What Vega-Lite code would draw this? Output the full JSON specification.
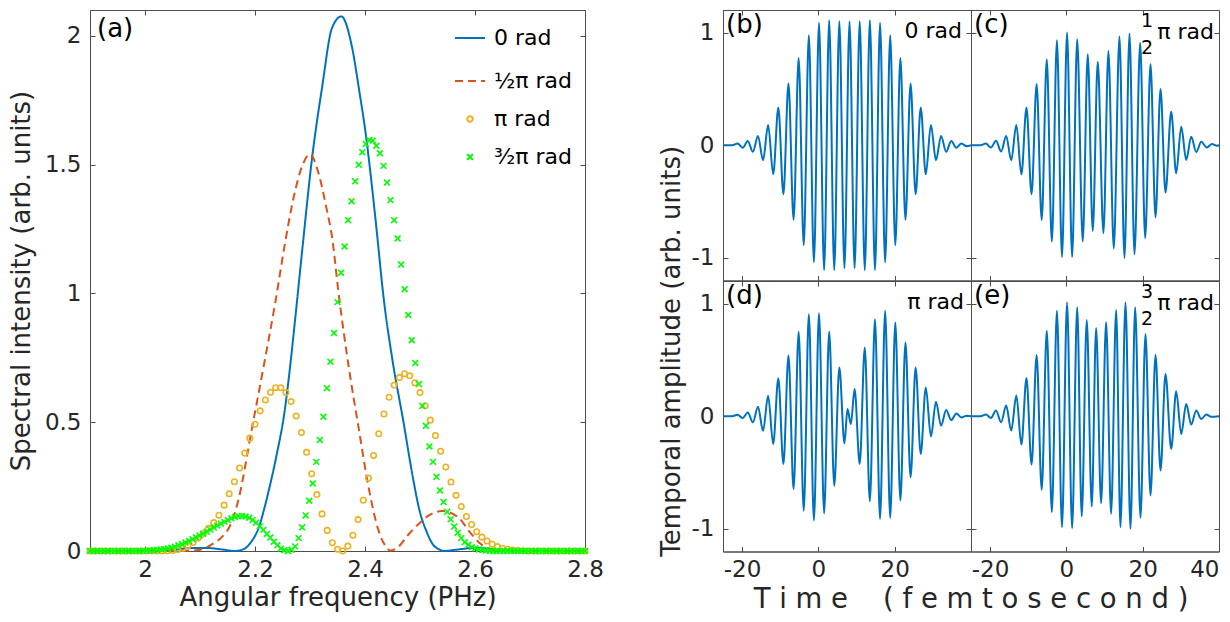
{
"$schema": "https://vega.github.io/schema/vega-lite/v6.json",
"padding": {"left": 7, "top": 9, "right": 5, "bottom": 0},
"background": "white",
"datasets": {
"lines": [
{"s":"0 rad","f":1.9,"v":0},{"s":"0 rad","f":2.0,"v":0.001},{"s":"0 rad","f":2.05,"v":0.004},{"s":"0 rad","f":2.08,"v":0.011},{"s":"0 rad","f":2.11,"v":0.012},{"s":"0 rad","f":2.14,"v":0.006},{"s":"0 rad","f":2.164,"v":0},{"s":"0 rad","f":2.18,"v":0.008},{"s":"0 rad","f":2.1945,"v":0.04},{"s":"0 rad","f":2.2067,"v":0.09},{"s":"0 rad","f":2.2187,"v":0.18},{"s":"0 rad","f":2.2278,"v":0.26},{"s":"0 rad","f":2.24,"v":0.38},{"s":"0 rad","f":2.253,"v":0.53},{"s":"0 rad","f":2.263,"v":0.7},{"s":"0 rad","f":2.273,"v":0.9},{"s":"0 rad","f":2.285,"v":1.15},{"s":"0 rad","f":2.304,"v":1.53},{"s":"0 rad","f":2.322,"v":1.8},{"s":"0 rad","f":2.34,"v":2.03},{"s":"0 rad","f":2.357,"v":2.075},{"s":"0 rad","f":2.376,"v":1.96},{"s":"0 rad","f":2.39,"v":1.78},{"s":"0 rad","f":2.4,"v":1.64},{"s":"0 rad","f":2.419,"v":1.29},{"s":"0 rad","f":2.434,"v":0.98},{"s":"0 rad","f":2.45,"v":0.74},{"s":"0 rad","f":2.47,"v":0.5},{"s":"0 rad","f":2.485,"v":0.31},{"s":"0 rad","f":2.5,"v":0.15},{"s":"0 rad","f":2.512,"v":0.075},{"s":"0 rad","f":2.522,"v":0.03},{"s":"0 rad","f":2.535,"v":0.006},{"s":"0 rad","f":2.545,"v":0},{"s":"0 rad","f":2.565,"v":0.005},{"s":"0 rad","f":2.6,"v":0.012},{"s":"0 rad","f":2.63,"v":0.008},{"s":"0 rad","f":2.66,"v":0.002},{"s":"0 rad","f":2.7,"v":0},{"s":"0 rad","f":2.8,"v":0},
{"s":"½π rad","f":1.9,"v":0},{"s":"½π rad","f":2.05,"v":0},{"s":"½π rad","f":2.09,"v":0.002},{"s":"½π rad","f":2.11,"v":0.012},{"s":"½π rad","f":2.125,"v":0.03},{"s":"½π rad","f":2.14,"v":0.055},{"s":"½π rad","f":2.155,"v":0.1},{"s":"½π rad","f":2.17,"v":0.2},{"s":"½π rad","f":2.1945,"v":0.477},{"s":"½π rad","f":2.216,"v":0.72},{"s":"½π rad","f":2.237,"v":0.966},{"s":"½π rad","f":2.255,"v":1.2},{"s":"½π rad","f":2.27,"v":1.37},{"s":"½π rad","f":2.285,"v":1.49},{"s":"½π rad","f":2.3,"v":1.54},{"s":"½π rad","f":2.315,"v":1.47},{"s":"½π rad","f":2.33,"v":1.33},{"s":"½π rad","f":2.34,"v":1.22},{"s":"½π rad","f":2.352,"v":1.0},{"s":"½π rad","f":2.37,"v":0.72},{"s":"½π rad","f":2.3885,"v":0.477},{"s":"½π rad","f":2.4067,"v":0.245},{"s":"½π rad","f":2.425,"v":0.077},{"s":"½π rad","f":2.437,"v":0.02},{"s":"½π rad","f":2.446,"v":0.002},{"s":"½π rad","f":2.46,"v":0.015},{"s":"½π rad","f":2.479,"v":0.064},{"s":"½π rad","f":2.5,"v":0.11},{"s":"½π rad","f":2.516,"v":0.138},{"s":"½π rad","f":2.54,"v":0.155},{"s":"½π rad","f":2.57,"v":0.13},{"s":"½π rad","f":2.59,"v":0.075},{"s":"½π rad","f":2.61,"v":0.028},{"s":"½π rad","f":2.63,"v":0.006},{"s":"½π rad","f":2.66,"v":0},{"s":"½π rad","f":2.8,"v":0}
],
"marks": [
{"s":"π rad","f":1.9,"v":0},{"s":"π rad","f":1.9094,"v":0},{"s":"π rad","f":1.9188,"v":0},{"s":"π rad","f":1.9281,"v":0},{"s":"π rad","f":1.9375,"v":0},{"s":"π rad","f":1.9469,"v":0},{"s":"π rad","f":1.9563,"v":0},{"s":"π rad","f":1.9656,"v":0},{"s":"π rad","f":1.975,"v":0},{"s":"π rad","f":1.9844,"v":0},{"s":"π rad","f":1.9938,"v":0},{"s":"π rad","f":2.0031,"v":0},{"s":"π rad","f":2.0125,"v":0},{"s":"π rad","f":2.0219,"v":0},{"s":"π rad","f":2.0313,"v":0},{"s":"π rad","f":2.0406,"v":0.001},{"s":"π rad","f":2.05,"v":0.002},{"s":"π rad","f":2.0594,"v":0.006},{"s":"π rad","f":2.0688,"v":0.011},{"s":"π rad","f":2.0781,"v":0.02},{"s":"π rad","f":2.0875,"v":0.033},{"s":"π rad","f":2.0969,"v":0.05},{"s":"π rad","f":2.1063,"v":0.068},{"s":"π rad","f":2.1156,"v":0.088},{"s":"π rad","f":2.125,"v":0.11},{"s":"π rad","f":2.1344,"v":0.139},{"s":"π rad","f":2.1438,"v":0.178},{"s":"π rad","f":2.1531,"v":0.222},{"s":"π rad","f":2.1625,"v":0.269},{"s":"π rad","f":2.1719,"v":0.322},{"s":"π rad","f":2.1813,"v":0.38},{"s":"π rad","f":2.1906,"v":0.438},{"s":"π rad","f":2.2,"v":0.492},{"s":"π rad","f":2.2094,"v":0.544},{"s":"π rad","f":2.2188,"v":0.586},{"s":"π rad","f":2.2281,"v":0.616},{"s":"π rad","f":2.2375,"v":0.634},{"s":"π rad","f":2.2469,"v":0.634},{"s":"π rad","f":2.2563,"v":0.615},{"s":"π rad","f":2.2656,"v":0.58},{"s":"π rad","f":2.275,"v":0.524},{"s":"π rad","f":2.2844,"v":0.46},{"s":"π rad","f":2.2938,"v":0.383},{"s":"π rad","f":2.3031,"v":0.3},{"s":"π rad","f":2.3125,"v":0.219},{"s":"π rad","f":2.3219,"v":0.144},{"s":"π rad","f":2.3313,"v":0.08},{"s":"π rad","f":2.3406,"v":0.032},{"s":"π rad","f":2.35,"v":0.007},{"s":"π rad","f":2.3594,"v":0},{"s":"π rad","f":2.3688,"v":0.019},{"s":"π rad","f":2.3781,"v":0.061},{"s":"π rad","f":2.3875,"v":0.122},{"s":"π rad","f":2.3969,"v":0.197},{"s":"π rad","f":2.4063,"v":0.283},{"s":"π rad","f":2.4156,"v":0.371},{"s":"π rad","f":2.425,"v":0.455},{"s":"π rad","f":2.4344,"v":0.532},{"s":"π rad","f":2.4438,"v":0.597},{"s":"π rad","f":2.4531,"v":0.644},{"s":"π rad","f":2.4625,"v":0.673},{"s":"π rad","f":2.4719,"v":0.688},{"s":"π rad","f":2.4813,"v":0.68},{"s":"π rad","f":2.4906,"v":0.653},{"s":"π rad","f":2.5,"v":0.615},{"s":"π rad","f":2.5094,"v":0.564},{"s":"π rad","f":2.5188,"v":0.508},{"s":"π rad","f":2.5281,"v":0.448},{"s":"π rad","f":2.5375,"v":0.387},{"s":"π rad","f":2.5469,"v":0.326},{"s":"π rad","f":2.5563,"v":0.268},{"s":"π rad","f":2.5656,"v":0.216},{"s":"π rad","f":2.575,"v":0.173},{"s":"π rad","f":2.5844,"v":0.134},{"s":"π rad","f":2.5938,"v":0.103},{"s":"π rad","f":2.6031,"v":0.075},{"s":"π rad","f":2.6125,"v":0.054},{"s":"π rad","f":2.6219,"v":0.039},{"s":"π rad","f":2.6313,"v":0.026},{"s":"π rad","f":2.6406,"v":0.017},{"s":"π rad","f":2.65,"v":0.011},{"s":"π rad","f":2.6594,"v":0.007},{"s":"π rad","f":2.6688,"v":0.004},{"s":"π rad","f":2.6781,"v":0.002},{"s":"π rad","f":2.6875,"v":0.001},{"s":"π rad","f":2.6969,"v":0},{"s":"π rad","f":2.7063,"v":0},{"s":"π rad","f":2.7156,"v":0},{"s":"π rad","f":2.725,"v":0},{"s":"π rad","f":2.7344,"v":0},{"s":"π rad","f":2.7438,"v":0},{"s":"π rad","f":2.7531,"v":0},{"s":"π rad","f":2.7625,"v":0},{"s":"π rad","f":2.7719,"v":0},{"s":"π rad","f":2.7813,"v":0},{"s":"π rad","f":2.7906,"v":0},{"s":"π rad","f":2.8,"v":0},
{"s":"³⁄₂π rad","f":1.9,"v":0},{"s":"³⁄₂π rad","f":1.9064,"v":0},{"s":"³⁄₂π rad","f":1.9129,"v":0},{"s":"³⁄₂π rad","f":1.9193,"v":0},{"s":"³⁄₂π rad","f":1.9257,"v":0},{"s":"³⁄₂π rad","f":1.9321,"v":0},{"s":"³⁄₂π rad","f":1.9386,"v":0},{"s":"³⁄₂π rad","f":1.945,"v":0},{"s":"³⁄₂π rad","f":1.9514,"v":0},{"s":"³⁄₂π rad","f":1.9579,"v":0},{"s":"³⁄₂π rad","f":1.9643,"v":0},{"s":"³⁄₂π rad","f":1.9707,"v":0},{"s":"³⁄₂π rad","f":1.9771,"v":0},{"s":"³⁄₂π rad","f":1.9836,"v":0},{"s":"³⁄₂π rad","f":1.99,"v":0},{"s":"³⁄₂π rad","f":1.9964,"v":0.001},{"s":"³⁄₂π rad","f":2.0029,"v":0.001},{"s":"³⁄₂π rad","f":2.0093,"v":0.002},{"s":"³⁄₂π rad","f":2.0157,"v":0.003},{"s":"³⁄₂π rad","f":2.0221,"v":0.004},{"s":"³⁄₂π rad","f":2.0286,"v":0.006},{"s":"³⁄₂π rad","f":2.035,"v":0.008},{"s":"³⁄₂π rad","f":2.0414,"v":0.01},{"s":"³⁄₂π rad","f":2.0479,"v":0.013},{"s":"³⁄₂π rad","f":2.0543,"v":0.017},{"s":"³⁄₂π rad","f":2.0607,"v":0.022},{"s":"³⁄₂π rad","f":2.0671,"v":0.027},{"s":"³⁄₂π rad","f":2.0736,"v":0.033},{"s":"³⁄₂π rad","f":2.08,"v":0.039},{"s":"³⁄₂π rad","f":2.0864,"v":0.046},{"s":"³⁄₂π rad","f":2.0929,"v":0.053},{"s":"³⁄₂π rad","f":2.0993,"v":0.06},{"s":"³⁄₂π rad","f":2.1057,"v":0.067},{"s":"³⁄₂π rad","f":2.1121,"v":0.075},{"s":"³⁄₂π rad","f":2.1186,"v":0.083},{"s":"³⁄₂π rad","f":2.125,"v":0.091},{"s":"³⁄₂π rad","f":2.1314,"v":0.099},{"s":"³⁄₂π rad","f":2.1379,"v":0.106},{"s":"³⁄₂π rad","f":2.1443,"v":0.113},{"s":"³⁄₂π rad","f":2.1507,"v":0.12},{"s":"³⁄₂π rad","f":2.1571,"v":0.127},{"s":"³⁄₂π rad","f":2.1636,"v":0.132},{"s":"³⁄₂π rad","f":2.17,"v":0.135},{"s":"³⁄₂π rad","f":2.1764,"v":0.136},{"s":"³⁄₂π rad","f":2.1829,"v":0.134},{"s":"³⁄₂π rad","f":2.1893,"v":0.129},{"s":"³⁄₂π rad","f":2.1957,"v":0.12},{"s":"³⁄₂π rad","f":2.2021,"v":0.11},{"s":"³⁄₂π rad","f":2.2086,"v":0.096},{"s":"³⁄₂π rad","f":2.215,"v":0.082},{"s":"³⁄₂π rad","f":2.2214,"v":0.066},{"s":"³⁄₂π rad","f":2.2279,"v":0.052},{"s":"³⁄₂π rad","f":2.2343,"v":0.036},{"s":"³⁄₂π rad","f":2.2407,"v":0.022},{"s":"³⁄₂π rad","f":2.2471,"v":0.01},{"s":"³⁄₂π rad","f":2.2536,"v":0.003},{"s":"³⁄₂π rad","f":2.26,"v":0},{"s":"³⁄₂π rad","f":2.2664,"v":0.005},{"s":"³⁄₂π rad","f":2.2729,"v":0.018},{"s":"³⁄₂π rad","f":2.2793,"v":0.05},{"s":"³⁄₂π rad","f":2.2857,"v":0.092},{"s":"³⁄₂π rad","f":2.2921,"v":0.138},{"s":"³⁄₂π rad","f":2.2986,"v":0.195},{"s":"³⁄₂π rad","f":2.305,"v":0.262},{"s":"³⁄₂π rad","f":2.3114,"v":0.346},{"s":"³⁄₂π rad","f":2.3179,"v":0.431},{"s":"³⁄₂π rad","f":2.3243,"v":0.521},{"s":"³⁄₂π rad","f":2.3307,"v":0.632},{"s":"³⁄₂π rad","f":2.3371,"v":0.735},{"s":"³⁄₂π rad","f":2.3436,"v":0.846},{"s":"³⁄₂π rad","f":2.35,"v":0.966},{"s":"³⁄₂π rad","f":2.3564,"v":1.08},{"s":"³⁄₂π rad","f":2.3629,"v":1.182},{"s":"³⁄₂π rad","f":2.3693,"v":1.284},{"s":"³⁄₂π rad","f":2.3757,"v":1.358},{"s":"³⁄₂π rad","f":2.3821,"v":1.435},{"s":"³⁄₂π rad","f":2.3886,"v":1.499},{"s":"³⁄₂π rad","f":2.395,"v":1.548},{"s":"³⁄₂π rad","f":2.4014,"v":1.58},{"s":"³⁄₂π rad","f":2.4079,"v":1.595},{"s":"³⁄₂π rad","f":2.4143,"v":1.593},{"s":"³⁄₂π rad","f":2.4207,"v":1.573},{"s":"³⁄₂π rad","f":2.4271,"v":1.544},{"s":"³⁄₂π rad","f":2.4336,"v":1.495},{"s":"³⁄₂π rad","f":2.44,"v":1.43},{"s":"³⁄₂π rad","f":2.4464,"v":1.362},{"s":"³⁄₂π rad","f":2.4529,"v":1.284},{"s":"³⁄₂π rad","f":2.4593,"v":1.213},{"s":"³⁄₂π rad","f":2.4657,"v":1.112},{"s":"³⁄₂π rad","f":2.4721,"v":1.016},{"s":"³⁄₂π rad","f":2.4786,"v":0.916},{"s":"³⁄₂π rad","f":2.485,"v":0.818},{"s":"³⁄₂π rad","f":2.4914,"v":0.73},{"s":"³⁄₂π rad","f":2.4979,"v":0.648},{"s":"³⁄₂π rad","f":2.5043,"v":0.563},{"s":"³⁄₂π rad","f":2.5107,"v":0.486},{"s":"³⁄₂π rad","f":2.5171,"v":0.406},{"s":"³⁄₂π rad","f":2.5236,"v":0.346},{"s":"³⁄₂π rad","f":2.53,"v":0.288},{"s":"³⁄₂π rad","f":2.5364,"v":0.235},{"s":"³⁄₂π rad","f":2.5429,"v":0.19},{"s":"³⁄₂π rad","f":2.5493,"v":0.152},{"s":"³⁄₂π rad","f":2.5557,"v":0.123},{"s":"³⁄₂π rad","f":2.5621,"v":0.095},{"s":"³⁄₂π rad","f":2.5686,"v":0.071},{"s":"³⁄₂π rad","f":2.575,"v":0.05},{"s":"³⁄₂π rad","f":2.5814,"v":0.034},{"s":"³⁄₂π rad","f":2.5879,"v":0.024},{"s":"³⁄₂π rad","f":2.5943,"v":0.015},{"s":"³⁄₂π rad","f":2.6007,"v":0.01},{"s":"³⁄₂π rad","f":2.6071,"v":0.006},{"s":"³⁄₂π rad","f":2.6136,"v":0.004},{"s":"³⁄₂π rad","f":2.62,"v":0.002},{"s":"³⁄₂π rad","f":2.6264,"v":0.001},{"s":"³⁄₂π rad","f":2.6329,"v":0},{"s":"³⁄₂π rad","f":2.6393,"v":0},{"s":"³⁄₂π rad","f":2.6457,"v":0},{"s":"³⁄₂π rad","f":2.6521,"v":0},{"s":"³⁄₂π rad","f":2.6586,"v":0},{"s":"³⁄₂π rad","f":2.665,"v":0},{"s":"³⁄₂π rad","f":2.6714,"v":0},{"s":"³⁄₂π rad","f":2.6779,"v":0},{"s":"³⁄₂π rad","f":2.6843,"v":0},{"s":"³⁄₂π rad","f":2.6907,"v":0},{"s":"³⁄₂π rad","f":2.6971,"v":0},{"s":"³⁄₂π rad","f":2.7036,"v":0},{"s":"³⁄₂π rad","f":2.71,"v":0},{"s":"³⁄₂π rad","f":2.7164,"v":0},{"s":"³⁄₂π rad","f":2.7229,"v":0},{"s":"³⁄₂π rad","f":2.7293,"v":0},{"s":"³⁄₂π rad","f":2.7357,"v":0},{"s":"³⁄₂π rad","f":2.7421,"v":0},{"s":"³⁄₂π rad","f":2.7486,"v":0},{"s":"³⁄₂π rad","f":2.755,"v":0},{"s":"³⁄₂π rad","f":2.7614,"v":0},{"s":"³⁄₂π rad","f":2.7679,"v":0},{"s":"³⁄₂π rad","f":2.7743,"v":0},{"s":"³⁄₂π rad","f":2.7807,"v":0},{"s":"³⁄₂π rad","f":2.7871,"v":0},{"s":"³⁄₂π rad","f":2.7936,"v":0},{"s":"³⁄₂π rad","f":2.8,"v":0}
],
"wave": [
{"p":"b","t":-25,"a":0},{"p":"b","t":-22.6,"a":0},{"p":"b","t":-21.17,"a":0.015},{"p":"b","t":-19.83,"a":-0.022},{"p":"b","t":-18.5,"a":0.038},{"p":"b","t":-17.17,"a":-0.058},{"p":"b","t":-15.83,"a":0.083},{"p":"b","t":-14.5,"a":-0.133},{"p":"b","t":-13.17,"a":0.18},{"p":"b","t":-11.84,"a":-0.257},{"p":"b","t":-10.5,"a":0.334},{"p":"b","t":-9.17,"a":-0.434},{"p":"b","t":-7.84,"a":0.547},{"p":"b","t":-6.5,"a":-0.662},{"p":"b","t":-5.17,"a":0.774},{"p":"b","t":-3.84,"a":-0.887},{"p":"b","t":-2.5,"a":0.975},{"p":"b","t":-1.17,"a":-1.04},{"p":"b","t":0.16,"a":1.087},{"p":"b","t":1.5,"a":-1.108},{"p":"b","t":2.83,"a":1.11},{"p":"b","t":4.16,"a":-1.108},{"p":"b","t":5.49,"a":1.1},{"p":"b","t":6.83,"a":-1.093},{"p":"b","t":8.16,"a":1.097},{"p":"b","t":9.49,"a":-1.093},{"p":"b","t":10.83,"a":1.1},{"p":"b","t":12.16,"a":-1.108},{"p":"b","t":13.49,"a":1.11},{"p":"b","t":14.83,"a":-1.108},{"p":"b","t":16.16,"a":1.087},{"p":"b","t":17.49,"a":-1.04},{"p":"b","t":18.82,"a":0.975},{"p":"b","t":20.16,"a":-0.887},{"p":"b","t":21.49,"a":0.774},{"p":"b","t":22.82,"a":-0.662},{"p":"b","t":24.16,"a":0.547},{"p":"b","t":25.49,"a":-0.434},{"p":"b","t":26.82,"a":0.334},{"p":"b","t":28.15,"a":-0.257},{"p":"b","t":29.49,"a":0.18},{"p":"b","t":30.82,"a":-0.133},{"p":"b","t":32.15,"a":0.083},{"p":"b","t":33.49,"a":-0.058},{"p":"b","t":34.82,"a":0.038},{"p":"b","t":36.15,"a":-0.022},{"p":"b","t":37.48,"a":0.015},{"p":"b","t":38.82,"a":-0.008},{"p":"b","t":40,"a":0},
{"p":"c","t":-25,"a":0},{"p":"c","t":-22.5,"a":0},{"p":"c","t":-21.1,"a":0.015},{"p":"c","t":-19.77,"a":-0.02},{"p":"c","t":-18.44,"a":0.04},{"p":"c","t":-17.11,"a":-0.056},{"p":"c","t":-15.78,"a":0.083},{"p":"c","t":-14.45,"a":-0.133},{"p":"c","t":-13.12,"a":0.18},{"p":"c","t":-11.79,"a":-0.257},{"p":"c","t":-10.46,"a":0.334},{"p":"c","t":-9.13,"a":-0.434},{"p":"c","t":-7.8,"a":0.544},{"p":"c","t":-6.47,"a":-0.663},{"p":"c","t":-5.14,"a":0.763},{"p":"c","t":-3.81,"a":-0.855},{"p":"c","t":-2.48,"a":0.932},{"p":"c","t":-1.15,"a":-0.991},{"p":"c","t":0.17,"a":1.0},{"p":"c","t":1.5,"a":-0.991},{"p":"c","t":2.83,"a":0.94},{"p":"c","t":4.29,"a":-0.855},{"p":"c","t":5.6,"a":0.808},{"p":"c","t":6.91,"a":-0.76},{"p":"c","t":8.22,"a":0.74},{"p":"c","t":9.71,"a":-0.781},{"p":"c","t":11.02,"a":0.837},{"p":"c","t":12.42,"a":-0.917},{"p":"c","t":13.91,"a":0.964},{"p":"c","t":15.22,"a":-1.0},{"p":"c","t":16.54,"a":0.99},{"p":"c","t":17.85,"a":-0.967},{"p":"c","t":19.34,"a":0.91},{"p":"c","t":20.65,"a":-0.825},{"p":"c","t":22.05,"a":0.72},{"p":"c","t":23.36,"a":-0.64},{"p":"c","t":24.67,"a":0.5},{"p":"c","t":25.98,"a":-0.42},{"p":"c","t":27.47,"a":0.3},{"p":"c","t":28.78,"a":-0.25},{"p":"c","t":30.1,"a":0.165},{"p":"c","t":31.41,"a":-0.13},{"p":"c","t":32.72,"a":0.075},{"p":"c","t":34.03,"a":-0.06},{"p":"c","t":35.35,"a":0.03},{"p":"c","t":36.83,"a":-0.02},{"p":"c","t":38.15,"a":0.01},{"p":"c","t":39.46,"a":-0.005},{"p":"c","t":40,"a":0},
{"p":"d","t":-25,"a":0},{"p":"d","t":-22.6,"a":0},{"p":"d","t":-21.17,"a":0.013},{"p":"d","t":-19.83,"a":-0.016},{"p":"d","t":-18.5,"a":0.034},{"p":"d","t":-17.17,"a":-0.055},{"p":"d","t":-15.83,"a":0.084},{"p":"d","t":-14.5,"a":-0.129},{"p":"d","t":-13.17,"a":0.182},{"p":"d","t":-11.84,"a":-0.247},{"p":"d","t":-10.5,"a":0.338},{"p":"d","t":-9.17,"a":-0.424},{"p":"d","t":-7.84,"a":0.538},{"p":"d","t":-6.5,"a":-0.645},{"p":"d","t":-5.17,"a":0.749},{"p":"d","t":-3.84,"a":-0.839},{"p":"d","t":-2.5,"a":0.905},{"p":"d","t":-1.17,"a":-0.926},{"p":"d","t":0.16,"a":0.914},{"p":"d","t":1.5,"a":-0.861},{"p":"d","t":2.83,"a":0.752},{"p":"d","t":4.16,"a":-0.616},{"p":"d","t":5.49,"a":0.433},{"p":"d","t":6.83,"a":-0.241},{"p":"d","t":7.63,"a":0.064},{"p":"d","t":8.51,"a":-0.069},{"p":"d","t":9.49,"a":0.241},{"p":"d","t":10.83,"a":-0.424},{"p":"d","t":12.16,"a":0.61},{"p":"d","t":13.49,"a":-0.755},{"p":"d","t":14.83,"a":0.861},{"p":"d","t":16.16,"a":-0.911},{"p":"d","t":17.49,"a":0.935},{"p":"d","t":18.82,"a":-0.902},{"p":"d","t":20.16,"a":0.832},{"p":"d","t":21.49,"a":-0.749},{"p":"d","t":22.82,"a":0.654},{"p":"d","t":24.16,"a":-0.542},{"p":"d","t":25.49,"a":0.433},{"p":"d","t":26.82,"a":-0.335},{"p":"d","t":28.15,"a":0.256},{"p":"d","t":29.49,"a":-0.179},{"p":"d","t":30.82,"a":0.129},{"p":"d","t":32.15,"a":-0.084},{"p":"d","t":33.49,"a":0.055},{"p":"d","t":34.82,"a":-0.034},{"p":"d","t":36.15,"a":0.025},{"p":"d","t":37.48,"a":-0.01},{"p":"d","t":38.8,"a":0.004},{"p":"d","t":40,"a":0},
{"p":"e","t":-25,"a":0},{"p":"e","t":-22.5,"a":0},{"p":"e","t":-21.1,"a":0.015},{"p":"e","t":-19.77,"a":-0.015},{"p":"e","t":-18.44,"a":0.05},{"p":"e","t":-17.11,"a":-0.053},{"p":"e","t":-15.78,"a":0.095},{"p":"e","t":-14.45,"a":-0.127},{"p":"e","t":-13.12,"a":0.183},{"p":"e","t":-11.79,"a":-0.251},{"p":"e","t":-10.46,"a":0.34},{"p":"e","t":-9.13,"a":-0.428},{"p":"e","t":-7.8,"a":0.544},{"p":"e","t":-6.47,"a":-0.653},{"p":"e","t":-5.14,"a":0.759},{"p":"e","t":-3.81,"a":-0.851},{"p":"e","t":-2.48,"a":0.937},{"p":"e","t":-1.15,"a":-0.984},{"p":"e","t":0.17,"a":1.01},{"p":"e","t":1.5,"a":-0.993},{"p":"e","t":2.83,"a":0.966},{"p":"e","t":4.02,"a":-0.889},{"p":"e","t":5.34,"a":0.854},{"p":"e","t":6.65,"a":-0.8},{"p":"e","t":7.79,"a":0.783},{"p":"e","t":9.1,"a":-0.771},{"p":"e","t":10.41,"a":0.833},{"p":"e","t":11.72,"a":-0.866},{"p":"e","t":13.04,"a":0.942},{"p":"e","t":14.17,"a":-0.984},{"p":"e","t":15.49,"a":1.01},{"p":"e","t":16.8,"a":-0.999},{"p":"e","t":18.02,"a":0.966},{"p":"e","t":19.42,"a":-0.901},{"p":"e","t":20.73,"a":0.73},{"p":"e","t":22.05,"a":-0.703},{"p":"e","t":23.36,"a":0.544},{"p":"e","t":24.67,"a":-0.482},{"p":"e","t":25.98,"a":0.375},{"p":"e","t":27.47,"a":-0.29},{"p":"e","t":28.78,"a":0.222},{"p":"e","t":30.1,"a":-0.157},{"p":"e","t":31.41,"a":0.109},{"p":"e","t":32.72,"a":-0.074},{"p":"e","t":34.03,"a":0.05},{"p":"e","t":35.35,"a":-0.024},{"p":"e","t":36.66,"a":0.015},{"p":"e","t":37.97,"a":-0.005},{"p":"e","t":40,"a":0}
],
"notes": [
{"p":"a","tag":"(a)","ph":"","fr":""},
{"p":"b","tag":"(b)","ph":"0 rad","fr":""},
{"p":"c","tag":"(c)","ph":"π rad","fr":"1\n2"},
{"p":"d","tag":"(d)","ph":"π rad","fr":""},
{"p":"e","tag":"(e)","ph":"π rad","fr":"3\n2"}
]
},
"resolve": {
 "scale": {"color": "independent", "shape": "independent", "strokeDash": "independent", "size": "independent"},
 "legend": {"color": "independent", "shape": "independent", "strokeDash": "independent", "size": "independent"}
},
"hconcat": [
{
"width": 495, "height": 541,
"layer": [
{"data": {"name": "lines"},
 "mark": {"type": "line", "interpolate": "monotone", "strokeWidth": 2},
 "encoding": {
  "x": {"field": "f", "type": "quantitative", "scale": {"domain": [1.9, 2.8], "nice": false, "zero": false}, "axis": {"orient": "bottom", "values": [2, 2.2, 2.4, 2.6, 2.8], "format": "~g", "title": "Angular frequency (PHz)", "labelFlush": false, "titlePadding": 3}},
  "y": {"field": "v", "type": "quantitative", "scale": {"domain": [0, 2.1], "nice": false}, "axis": {"orient": "left", "values": [0, 0.5, 1, 1.5, 2], "format": "~g", "title": "Spectral intensity (arb. units)", "labelFlush": false, "titlePadding": 10}},
  "color": {"field": "s", "type": "nominal", "scale": {"domain": ["0 rad", "½π rad", "π rad", "³⁄₂π rad"], "range": ["#0072BD", "#D95319", "#EDB120", "#00FF00"]}, "legend": {"title": null, "orient": "top-right"}},
  "strokeDash": {"field": "s", "type": "nominal", "scale": {"domain": ["0 rad", "½π rad", "π rad", "³⁄₂π rad"], "range": [[1, 0], [8, 5], [1, 0], [1, 0]]}, "legend": {"title": null, "orient": "top-right"}}
 }},
{"data": {"name": "marks"},
 "mark": {"type": "point", "filled": false, "strokeWidth": 1.6, "opacity": 1},
 "encoding": {
  "x": {"field": "f", "type": "quantitative", "axis": {"orient": "bottom", "labels": false, "ticks": false, "domain": false, "title": null}},
  "y": {"field": "v", "type": "quantitative", "axis": {"orient": "left", "labels": false, "ticks": false, "domain": false, "title": null}},
  "color": {"field": "s", "type": "nominal", "scale": {"domain": ["0 rad", "½π rad", "π rad", "³⁄₂π rad"], "range": ["#0072BD", "#D95319", "#EDB120", "#00FF00"]}, "legend": {"title": null, "orient": "top-right"}},
  "shape": {"field": "s", "type": "nominal", "scale": {"domain": ["0 rad", "½π rad", "π rad", "³⁄₂π rad"], "range": ["stroke", "stroke", "circle", "M-1,-1L1,1M-1,1L1,-1"]}, "legend": {"title": null, "orient": "top-right"}},
  "size": {"field": "s", "type": "nominal", "scale": {"type": "ordinal", "domain": ["0 rad", "½π rad", "π rad", "³⁄₂π rad"], "range": [900, 900, 30, 34]}, "legend": {"title": null, "orient": "top-right"}}
 }},
{"data": {"name": "notes"}, "transform": [{"filter": "datum.p == 'a'"}],
 "mark": {"type": "text", "align": "left", "baseline": "top", "dx": 7, "dy": 6, "fontSize": 26, "color": "#000"},
 "encoding": {"x": {"datum": 1.9, "type": "quantitative", "axis": {"orient": "top", "values": [2, 2.2, 2.4, 2.6, 2.8], "labels": false, "domain": false, "title": null}}, "y": {"datum": 2.1, "type": "quantitative", "axis": {"orient": "right", "values": [0, 0.5, 1, 1.5, 2], "labels": false, "domain": false, "title": null}}, "text": {"field": "tag"}}}
]
},
{
"title": {"text": "Temporal amplitude (arb. units)", "orient": "left", "anchor": "middle", "fontSize": 26, "fontWeight": "normal", "color": "#262626", "offset": 6, "dx": -40},
"vconcat": [
{
"title": {"text": "T i m e \u00a0\u00a0 ( f e m t o s e c o n d )", "orient": "bottom", "anchor": "middle", "fontSize": 27.5, "fontWeight": "normal", "color": "#262626", "offset": 4, "dx": 14},
"columns": 2,
"spacing": 0,
"bounds": "flush",
"concat": [
{"width": 248, "height": 270.5, "layer": [
 {"data": {"name": "wave"}, "transform": [{"filter": "datum.p == 'b'"}], "mark": {"type": "line", "interpolate": "monotone", "color": "#0072BD", "strokeWidth": 2},
  "encoding": {"x": {"field": "t", "type": "quantitative", "scale": {"domain": [-25, 40], "nice": false, "zero": false}, "axis": {"orient": "bottom", "values": [-20, 0, 20, 40], "labels": false, "title": null}},
   "y": {"field": "a", "type": "quantitative", "scale": {"domain": [-1.2, 1.2], "nice": false, "zero": false}, "axis": {"orient": "left", "values": [-1, 0, 1], "title": null, "labelExpr": "datum.value < 0 ? '-' + abs(datum.value) : '' + datum.value"}}}},
 {"data": {"name": "notes"}, "transform": [{"filter": "datum.p == 'b'"}], "mark": {"type": "text", "align": "left", "baseline": "top", "dx": 3, "dy": 2, "fontSize": 26, "color": "#000"},
  "encoding": {"x": {"datum": -25, "type": "quantitative", "axis": {"orient": "top", "values": [-20, 0, 20, 40], "labels": false, "domain": false, "title": null}}, "y": {"datum": 1.2, "type": "quantitative", "axis": {"orient": "right", "values": [-1, 0, 1], "labels": false, "domain": false, "title": null}}, "text": {"field": "tag"}}},
 {"data": {"name": "notes"}, "transform": [{"filter": "datum.p == 'b'"}], "mark": {"type": "text", "align": "right", "baseline": "middle", "dx": -9, "dy": 21, "fontSize": 22, "color": "#000"},
  "encoding": {"x": {"datum": 40, "type": "quantitative", "axis": {"orient": "bottom", "labels": false, "ticks": false, "domain": false, "title": null}}, "y": {"datum": 1.2, "type": "quantitative", "axis": {"orient": "left", "labels": false, "ticks": false, "domain": false, "title": null}}, "text": {"field": "ph"}}}
]},
{"width": 248, "height": 270.5, "layer": [
 {"data": {"name": "wave"}, "transform": [{"filter": "datum.p == 'c'"}], "mark": {"type": "line", "interpolate": "monotone", "color": "#0072BD", "strokeWidth": 2},
  "encoding": {"x": {"field": "t", "type": "quantitative", "scale": {"domain": [-25, 40], "nice": false, "zero": false}, "axis": {"orient": "bottom", "values": [-20, 0, 20, 40], "labels": false, "title": null}},
   "y": {"field": "a", "type": "quantitative", "scale": {"domain": [-1.2, 1.2], "nice": false, "zero": false}, "axis": {"orient": "left", "values": [-1, 0, 1], "labels": false, "title": null}}}},
 {"data": {"name": "notes"}, "transform": [{"filter": "datum.p == 'c'"}], "mark": {"type": "text", "align": "left", "baseline": "top", "dx": 3, "dy": 2, "fontSize": 26, "color": "#000"},
  "encoding": {"x": {"datum": -25, "type": "quantitative", "axis": {"orient": "top", "values": [-20, 0, 20, 40], "labels": false, "domain": false, "title": null}}, "y": {"datum": 1.2, "type": "quantitative", "axis": {"orient": "right", "values": [-1, 0, 1], "labels": false, "domain": false, "title": null}}, "text": {"field": "tag"}}},
 {"data": {"name": "notes"}, "transform": [{"filter": "datum.p == 'c'"}], "mark": {"type": "text", "align": "right", "baseline": "middle", "dx": -5, "dy": 22, "fontSize": 22, "color": "#000"},
  "encoding": {"x": {"datum": 40, "type": "quantitative", "axis": {"orient": "bottom", "labels": false, "ticks": false, "domain": false, "title": null}}, "y": {"datum": 1.2, "type": "quantitative", "axis": {"orient": "left", "labels": false, "ticks": false, "domain": false, "title": null}}, "text": {"field": "ph"}}},
 {"data": {"name": "notes"}, "transform": [{"filter": "datum.p == 'c'"}], "mark": {"type": "text", "align": "center", "baseline": "middle", "lineBreak": "\n", "lineHeight": 27, "dx": -72, "dy": 11, "fontSize": 19, "color": "#000"},
  "encoding": {"x": {"datum": 40, "type": "quantitative", "axis": {"orient": "bottom", "labels": false, "ticks": false, "domain": false, "title": null}}, "y": {"datum": 1.2, "type": "quantitative", "axis": {"orient": "left", "labels": false, "ticks": false, "domain": false, "title": null}}, "text": {"field": "fr"}}}
]},
{"width": 248, "height": 270.5, "layer": [
 {"data": {"name": "wave"}, "transform": [{"filter": "datum.p == 'd'"}], "mark": {"type": "line", "interpolate": "monotone", "color": "#0072BD", "strokeWidth": 2},
  "encoding": {"x": {"field": "t", "type": "quantitative", "scale": {"domain": [-25, 40], "nice": false, "zero": false}, "axis": {"orient": "bottom", "values": [-20, 0, 20], "title": null, "labelExpr": "datum.value < 0 ? '-' + abs(datum.value) : '' + datum.value"}},
   "y": {"field": "a", "type": "quantitative", "scale": {"domain": [-1.2, 1.2], "nice": false, "zero": false}, "axis": {"orient": "left", "values": [-1, 0, 1], "title": null, "labelExpr": "datum.value < 0 ? '-' + abs(datum.value) : '' + datum.value"}}}},
 {"data": {"name": "notes"}, "transform": [{"filter": "datum.p == 'd'"}], "mark": {"type": "text", "align": "left", "baseline": "top", "dx": 3, "dy": 2, "fontSize": 26, "color": "#000"},
  "encoding": {"x": {"datum": -25, "type": "quantitative", "axis": {"orient": "top", "values": [-20, 0, 20, 40], "labels": false, "domain": false, "title": null}}, "y": {"datum": 1.2, "type": "quantitative", "axis": {"orient": "right", "values": [-1, 0, 1], "labels": false, "domain": false, "title": null}}, "text": {"field": "tag"}}},
 {"data": {"name": "notes"}, "transform": [{"filter": "datum.p == 'd'"}], "mark": {"type": "text", "align": "right", "baseline": "middle", "dx": -7, "dy": 21, "fontSize": 22, "color": "#000"},
  "encoding": {"x": {"datum": 40, "type": "quantitative", "axis": {"orient": "bottom", "labels": false, "ticks": false, "domain": false, "title": null}}, "y": {"datum": 1.2, "type": "quantitative", "axis": {"orient": "left", "labels": false, "ticks": false, "domain": false, "title": null}}, "text": {"field": "ph"}}}
]},
{"width": 248, "height": 270.5, "layer": [
 {"data": {"name": "wave"}, "transform": [{"filter": "datum.p == 'e'"}], "mark": {"type": "line", "interpolate": "monotone", "color": "#0072BD", "strokeWidth": 2},
  "encoding": {"x": {"field": "t", "type": "quantitative", "scale": {"domain": [-25, 40], "nice": false, "zero": false}, "axis": {"orient": "bottom", "values": [-20, 0, 20, 40], "title": null, "labelExpr": "datum.value < 0 ? '-' + abs(datum.value) : '' + datum.value"}},
   "y": {"field": "a", "type": "quantitative", "scale": {"domain": [-1.2, 1.2], "nice": false, "zero": false}, "axis": {"orient": "left", "values": [-1, 0, 1], "labels": false, "title": null}}}},
 {"data": {"name": "notes"}, "transform": [{"filter": "datum.p == 'e'"}], "mark": {"type": "text", "align": "left", "baseline": "top", "dx": 3, "dy": 2, "fontSize": 26, "color": "#000"},
  "encoding": {"x": {"datum": -25, "type": "quantitative", "axis": {"orient": "top", "values": [-20, 0, 20, 40], "labels": false, "domain": false, "title": null}}, "y": {"datum": 1.2, "type": "quantitative", "axis": {"orient": "right", "values": [-1, 0, 1], "labels": false, "domain": false, "title": null}}, "text": {"field": "tag"}}},
 {"data": {"name": "notes"}, "transform": [{"filter": "datum.p == 'e'"}], "mark": {"type": "text", "align": "right", "baseline": "middle", "dx": -5, "dy": 22, "fontSize": 22, "color": "#000"},
  "encoding": {"x": {"datum": 40, "type": "quantitative", "axis": {"orient": "bottom", "labels": false, "ticks": false, "domain": false, "title": null}}, "y": {"datum": 1.2, "type": "quantitative", "axis": {"orient": "left", "labels": false, "ticks": false, "domain": false, "title": null}}, "text": {"field": "ph"}}},
 {"data": {"name": "notes"}, "transform": [{"filter": "datum.p == 'e'"}], "mark": {"type": "text", "align": "center", "baseline": "middle", "lineBreak": "\n", "lineHeight": 27, "dx": -72, "dy": 11, "fontSize": 19, "color": "#000"},
  "encoding": {"x": {"datum": 40, "type": "quantitative", "axis": {"orient": "bottom", "labels": false, "ticks": false, "domain": false, "title": null}}, "y": {"datum": 1.2, "type": "quantitative", "axis": {"orient": "left", "labels": false, "ticks": false, "domain": false, "title": null}}, "text": {"field": "fr"}}}
]}
]
}
]
}
],
"spacing": 54,
"config": {
 "font": "DejaVu Sans",
 "view": {"stroke": "#4d4d4d", "strokeWidth": 1},
 "axis": {"labelFontSize": 23, "titleFontSize": 26, "titleFontWeight": "normal", "labelColor": "#262626", "titleColor": "#262626", "domainColor": "#4d4d4d", "tickColor": "#4d4d4d", "grid": false, "tickSize": -5, "titlePadding": 6},
 "axisX": {"labelPadding": 12},
 "axisY": {"labelPadding": 14},
 "legend": {"orient": "top-right", "labelFontSize": 22, "labelColor": "#000", "symbolStrokeWidth": 2, "rowPadding": 16, "offset": 12, "labelOffset": 8, "padding": 0},
 "text": {"font": "DejaVu Sans"}
}
}
